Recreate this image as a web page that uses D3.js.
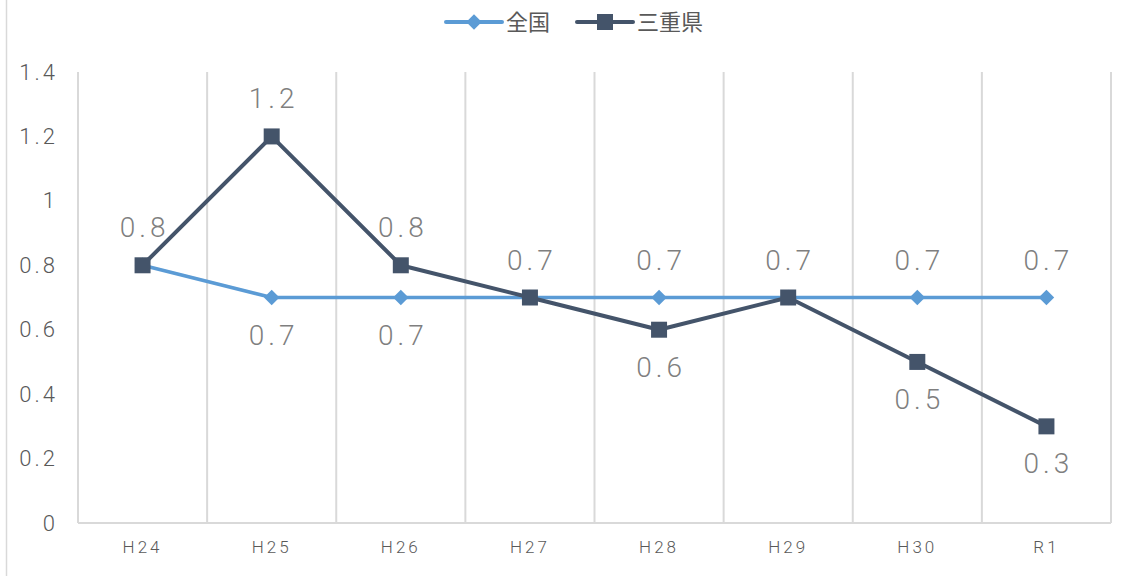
<!DOCTYPE html>
<html>
<head>
<meta charset="utf-8">
<script src="https://cdn.jsdelivr.net/npm/d3@7"></script>
<style>
  body { margin: 0; background: #fff; }
  svg { display: block; }
</style>
</head>
<body>
<div id="chart"></div>
<script>
// 年度
const categories = ['H24', 'H25', 'H26', 'H27', 'H28', 'H29', 'H30', 'R1'];
const seriesNames = ['全国', '三重県'];
const zenkoku = [0.8, 0.7, 0.7, 0.7, 0.7, 0.7, 0.7, 0.7];
const mie = [0.8, 1.2, 0.8, 0.7, 0.6, 0.7, 0.5, 0.3];
const yTicks = [0, 0.2, 0.4, 0.6, 0.8, 1, 1.2, 1.4];

const width = 1134, height = 576;
const margin = {top: 72, right: 23, bottom: 53, left: 78};
const innerW = width - margin.left - margin.right;
const innerH = height - margin.top - margin.bottom;

const colors = {'全国': '#5b9bd5', '三重県': '#44546a'};
const font = "Roboto, 'Noto Sans CJK JP', sans-serif";

const svg = d3.select('#chart').append('svg')
    .attr('width', width)
    .attr('height', height);

// 外枠
svg.append('rect')
    .attr('x', 6.5).attr('y', -10)
    .attr('width', width + 20).attr('height', height + 20)
    .attr('fill', 'none')
    .attr('stroke', '#d9d9d9')
    .attr('stroke-width', 1.5);

const g = svg.append('g')
    .attr('transform', `translate(${margin.left},${margin.top})`);

const x = d3.scaleBand().domain(categories).range([0, innerW]);
const y = d3.scaleLinear().domain([0, 1.4]).range([innerH, 0]);

// 縦の区切り線
g.append('g').selectAll('line')
    .data(categories.concat(['end']))
    .join('line')
    .attr('x1', (d, i) => i * x.bandwidth())
    .attr('x2', (d, i) => i * x.bandwidth())
    .attr('y1', 0)
    .attr('y2', innerH)
    .attr('stroke', '#d9d9d9')
    .attr('stroke-width', 2);

g.append('line')
    .attr('x1', 0).attr('x2', innerW)
    .attr('y1', innerH).attr('y2', innerH)
    .attr('stroke', '#d9d9d9')
    .attr('stroke-width', 2);

// y軸
const yAxisG = g.append('g').call(d3.axisLeft(y).tickValues(yTicks).tickSize(0).tickPadding(20).tickFormat(d => String(d)));
yAxisG.select('.domain').remove();
yAxisG.selectAll('text')
    .attr('fill', '#595959')
    .style('font-family', font)
    .style('font-size', '22px')
    .style('font-weight', 300)
    .style('letter-spacing', '3px');

// x軸
const xAxisG = g.append('g')
    .attr('transform', `translate(0,${innerH})`)
    .call(d3.axisBottom(x).tickSize(0).tickPadding(18));
xAxisG.select('.domain').remove();
xAxisG.selectAll('text')
    .attr('fill', '#595959')
    .style('font-family', font)
    .style('font-size', '17px')
    .style('font-weight', 300)
    .style('letter-spacing', '3px');

const cx = d => x(d) + x.bandwidth() / 2;

const series = [
    {name: '全国', values: zenkoku},
    {name: '三重県', values: mie}
];

const line = d3.line()
    .x(d => cx(d.cat))
    .y(d => y(d.v));

// ひし形 = 正方形を45度回転
const diamond = d3.symbol().type(d3.symbolSquare).size(120);
const square = d3.symbol().type(d3.symbolSquare).size(256);

series.forEach(s => {
    const pts = categories.map((c, i) => ({cat: c, v: s.values[i]}));
    g.append('path')
        .datum(pts)
        .attr('d', line)
        .attr('fill', 'none')
        .attr('stroke', colors[s.name])
        .attr('stroke-width', s.name === '全国' ? 3.5 : 4)
        .attr('stroke-linejoin', 'round');

    const isDiamond = s.name === '全国';
    g.append('g').selectAll('path')
        .data(pts)
        .join('path')
        .attr('d', isDiamond ? diamond() : square())
        .attr('transform', d => `translate(${cx(d.cat)},${y(d.v)})` + (isDiamond ? ' rotate(45)' : ''))
        .attr('fill', colors[s.name]);
});

// データラベル: 上の系列は上に、下の系列は下に、同値はひとつだけ上に
const labels = [];
categories.forEach((c, i) => {
    const a = zenkoku[i], b = mie[i];
    if (a === b) {
        labels.push({cat: c, v: a, pos: 'above'});
    } else {
        labels.push({cat: c, v: a, pos: a > b ? 'above' : 'below'});
        labels.push({cat: c, v: b, pos: b > a ? 'above' : 'below'});
    }
});

g.append('g').selectAll('text')
    .data(labels)
    .join('text')
    .attr('x', d => cx(d.cat) + 2)
    .attr('y', d => d.pos === 'above' ? y(d.v) - 28 : y(d.v) + 47)
    .attr('text-anchor', 'middle')
    .attr('fill', '#7f7f7f')
    .style('font-family', font)
    .style('font-weight', 300)
    .style('font-size', '28px')
    .style('letter-spacing', '4px')
    .text(d => String(d.v));

// 凡例
const legend = svg.append('g').attr('transform', 'translate(446,22)');
const legendItems = [
    {name: '全国', x: 0, lineW: 56},
    {name: '三重県', x: 131, lineW: 56}
];
legendItems.forEach(it => {
    const lg = legend.append('g').attr('transform', `translate(${it.x},0)`);
    lg.append('line')
        .attr('x1', 0).attr('x2', it.lineW)
        .attr('y1', 0).attr('y2', 0)
        .attr('stroke', colors[it.name])
        .attr('stroke-width', 4)
        .attr('stroke-linecap', 'round');
    const isDiamond = it.name === '全国';
    lg.append('path')
        .attr('d', isDiamond ? diamond() : square())
        .attr('transform', `translate(${it.lineW / 2},0)` + (isDiamond ? ' rotate(45)' : ''))
        .attr('fill', colors[it.name]);
    lg.append('text')
        .attr('x', it.lineW + 4)
        .attr('y', 8)
        .attr('fill', '#595959')
        .style('font-family', "'Noto Sans CJK JP', sans-serif")
        .style('font-size', '22px')
        .text(it.name);
});
</script>
</body>
</html>
